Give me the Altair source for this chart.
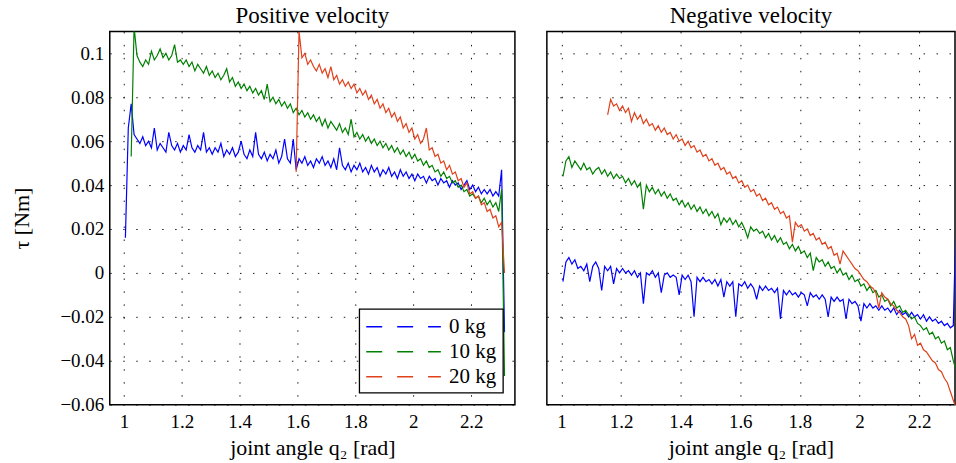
import altair as alt
import numpy as np
import pandas as pd

STEP = 0.01
LOADS = ["0 kg", "10 kg", "20 kg"]
COLORS = ["#0000ff", "#008000", "#e0401a"]
X_TICKS = [1, 1.2, 1.4, 1.6, 1.8, 2, 2.2]
Y_TICKS = [-0.06, -0.04, -0.02, 0, 0.02, 0.04, 0.06, 0.08, 0.1]

# ---------------- Positive velocity ----------------
pos_blue_x0 = 1.005
pos_blue = [
    0.016, 0.066, 0.077, 0.063, 0.061, 0.059, 0.062, 0.058, 0.060, 0.057,
    0.066, 0.056, 0.059, 0.057, 0.055, 0.064, 0.058, 0.056, 0.059, 0.055,
    0.058, 0.056, 0.063, 0.057, 0.055, 0.058, 0.056, 0.064, 0.055, 0.057,
    0.054, 0.057, 0.055, 0.059, 0.053, 0.056, 0.054, 0.057, 0.053, 0.055,
    0.060, 0.054, 0.052, 0.056, 0.053, 0.064, 0.054, 0.052, 0.055, 0.051,
    0.054, 0.052, 0.056, 0.050, 0.053, 0.061, 0.052, 0.050, 0.061, 0.047,
    0.052, 0.050, 0.053, 0.049, 0.051, 0.048, 0.052, 0.050, 0.053, 0.049,
    0.051, 0.048, 0.052, 0.047, 0.057, 0.049, 0.047, 0.050, 0.046, 0.049,
    0.047, 0.050, 0.046, 0.048, 0.045, 0.049, 0.046, 0.048, 0.044, 0.047,
    0.045, 0.048, 0.044, 0.046, 0.043, 0.047, 0.044, 0.046, 0.043, 0.045,
    0.042, 0.045, 0.043, 0.044, 0.041, 0.044, 0.042, 0.043, 0.040, 0.043,
    0.041, 0.042, 0.039, 0.042, 0.040, 0.041, 0.038, 0.040, 0.042, 0.038,
    0.040, 0.037, 0.039, 0.036, 0.038, 0.036, 0.038, 0.035, 0.037, 0.035,
    0.047, -0.027,
]
pos_green_x0 = 1.025
pos_green = [
    0.053, 0.112, 0.099, 0.096, 0.094, 0.097, 0.095, 0.101, 0.097, 0.099,
    0.102, 0.098, 0.100, 0.097, 0.099, 0.104, 0.096, 0.097, 0.095, 0.097,
    0.094, 0.096, 0.092, 0.095, 0.093, 0.091, 0.094, 0.090, 0.092, 0.089,
    0.091, 0.088, 0.090, 0.093, 0.087, 0.089, 0.085, 0.087, 0.084, 0.086,
    0.083, 0.085, 0.082, 0.084, 0.081, 0.083, 0.079, 0.086, 0.078, 0.080,
    0.077, 0.079, 0.076, 0.078, 0.075, 0.077, 0.073, 0.075, 0.072, 0.074,
    0.071, 0.073, 0.070, 0.072, 0.069, 0.071, 0.067, 0.070, 0.066, 0.069,
    0.067, 0.065, 0.068, 0.064, 0.066, 0.063, 0.070, 0.062, 0.064, 0.061,
    0.063, 0.060, 0.062, 0.059, 0.061, 0.058, 0.060, 0.057, 0.059, 0.056,
    0.058, 0.055, 0.057, 0.054, 0.056, 0.053, 0.055, 0.052, 0.054, 0.051,
    0.052, 0.049, 0.051, 0.048, 0.049, 0.046, 0.047, 0.044, 0.046, 0.043,
    0.044, 0.041, 0.042, 0.039, 0.040, 0.037, 0.038, 0.035, 0.036, 0.034,
    0.035, 0.032, 0.034, 0.031, 0.033, 0.030, 0.032, 0.028, 0.038, -0.047,
]
pos_red_x0 = 1.595
pos_red = [
    0.046, 0.110, 0.098, 0.100, 0.095, 0.097, 0.094, 0.092, 0.095, 0.091,
    0.093, 0.089, 0.094, 0.088, 0.090, 0.086, 0.088, 0.085, 0.087, 0.084,
    0.086, 0.082, 0.084, 0.081, 0.083, 0.079, 0.081, 0.077, 0.079, 0.075,
    0.077, 0.073, 0.075, 0.071, 0.073, 0.069, 0.071, 0.066, 0.068, 0.064,
    0.066, 0.061, 0.063, 0.059, 0.061, 0.066, 0.056, 0.057, 0.053, 0.054,
    0.050, 0.051, 0.047, 0.049, 0.045, 0.046, 0.042, 0.043, 0.039, 0.041,
    0.036, 0.037, 0.034, 0.035, 0.031, 0.032, 0.028, 0.029, 0.025, 0.026,
    0.021, 0.023, 0.000,
]

# ---------------- Negative velocity ----------------
neg_blue_x0 = 1.005
neg_blue = [
    -0.004, 0.005, 0.007, 0.004, 0.006, 0.002, 0.003, 0.001, 0.004, -0.004,
    0.003, 0.005, 0.002, -0.008, 0.003, 0.001, 0.003, -0.005, 0.002, 0.000,
    0.002, 0.000, 0.001, -0.001, 0.001, -0.002, 0.000, -0.014, 0.000, -0.001,
    0.001, -0.002, 0.000, -0.009, -0.001, 0.000, -0.002, -0.001, -0.002, -0.010,
    -0.001, -0.003, -0.001, -0.004, -0.020, -0.002, -0.004, -0.002, -0.004, -0.003,
    -0.005, -0.003, -0.006, -0.003, -0.011, -0.004, -0.006, -0.004, -0.020, -0.005,
    -0.006, -0.004, -0.007, -0.005, -0.007, -0.012, -0.006, -0.008, -0.006, -0.008,
    -0.007, -0.009, -0.007, -0.021, -0.008, -0.010, -0.008, -0.010, -0.009, -0.011,
    -0.009, -0.010, -0.015, -0.009, -0.011, -0.010, -0.012, -0.010, -0.012, -0.020,
    -0.011, -0.013, -0.011, -0.013, -0.012, -0.021, -0.012, -0.014, -0.013, -0.015,
    -0.022, -0.014, -0.016, -0.014, -0.016, -0.015, -0.017, -0.015, -0.017, -0.016,
    -0.018, -0.016, -0.019, -0.017, -0.019, -0.018, -0.020, -0.018, -0.020, -0.019,
    -0.021, -0.019, -0.022, -0.020, -0.022, -0.021, -0.023, -0.022, -0.024, -0.023,
    -0.025, -0.024, 0.030,
]
neg_green_x0 = 1.005
neg_green = [
    0.044, 0.051, 0.053, 0.048, 0.051, 0.049, 0.047, 0.050, 0.047, 0.048,
    0.045, 0.047, 0.048, 0.045, 0.047, 0.044, 0.046, 0.043, 0.045, 0.043,
    0.044, 0.041, 0.043, 0.040, 0.042, 0.039, 0.041, 0.029, 0.040, 0.037,
    0.039, 0.036, 0.038, 0.035, 0.037, 0.034, 0.036, 0.033, 0.034, 0.031,
    0.033, 0.030, 0.032, 0.029, 0.031, 0.028, 0.030, 0.027, 0.029, 0.026,
    0.028, 0.025, 0.027, 0.022, 0.025, 0.023, 0.025, 0.022, 0.024, 0.021,
    0.023, 0.020, 0.016, 0.021, 0.019, 0.020, 0.018, 0.019, 0.016, 0.018,
    0.015, 0.017, 0.014, 0.016, 0.013, 0.014, 0.011, 0.013, 0.010, 0.012,
    0.009, 0.010, 0.007, 0.009, 0.001, 0.007, 0.005, 0.006, 0.003, 0.005,
    0.002, 0.003, 0.000, 0.002, -0.001, 0.000, -0.003, -0.001, -0.004, -0.003,
    -0.006, -0.005, -0.008, -0.006, -0.009, -0.008, -0.011, -0.010, -0.013, -0.012,
    -0.015, -0.013, -0.016, -0.015, -0.018, -0.017, -0.019, -0.021, -0.020, -0.023,
    -0.024, -0.026, -0.025, -0.028, -0.027, -0.030, -0.029, -0.032, -0.031, -0.035,
    -0.034, -0.040, -0.045,
]
neg_red_x0 = 1.155
neg_red = [
    0.072, 0.079, 0.076, 0.077, 0.074, 0.076, 0.073, 0.075, 0.069, 0.073,
    0.070, 0.072, 0.068, 0.070, 0.067, 0.068, 0.065, 0.067, 0.064, 0.066,
    0.063, 0.064, 0.061, 0.063, 0.060, 0.061, 0.058, 0.060, 0.057, 0.058,
    0.055, 0.056, 0.053, 0.054, 0.051, 0.052, 0.049, 0.050, 0.047, 0.048,
    0.045, 0.046, 0.043, 0.044, 0.041, 0.042, 0.039, 0.040, 0.037, 0.038,
    0.035, 0.036, 0.033, 0.034, 0.031, 0.032, 0.029, 0.030, 0.027, 0.028,
    0.025, 0.026, 0.014, 0.023, 0.021, 0.022, 0.019, 0.020, 0.017, 0.018,
    0.015, 0.016, 0.013, 0.014, 0.011, 0.012, 0.008, 0.009, 0.004, 0.010,
    0.008, 0.006, 0.004, 0.002, 0.001, -0.001, -0.003, -0.004, -0.006, -0.007,
    -0.009, -0.016, -0.009, -0.011, -0.012, -0.014, -0.015, -0.017, -0.018, -0.020,
    -0.021, -0.024, -0.030, -0.028, -0.033, -0.032, -0.035, -0.036, -0.038, -0.040,
    -0.041, -0.044, -0.045, -0.048, -0.050, -0.054, -0.058, -0.062,
]


def frame(values, x0, load):
    q = np.round(x0 + STEP * np.arange(len(values)), 4)
    return pd.DataFrame({"q": q, "tau": values, "load": load})


pos_df = pd.concat([
    frame(pos_blue, pos_blue_x0, LOADS[0]),
    frame(pos_green, pos_green_x0, LOADS[1]),
    frame(pos_red, pos_red_x0, LOADS[2]),
])
neg_df = pd.concat([
    frame(neg_blue, neg_blue_x0, LOADS[0]),
    frame(neg_green, neg_green_x0, LOADS[1]),
    frame(neg_red, neg_red_x0, LOADS[2]),
])

FONT = "Liberation Serif"
x_title = "joint angle q\u2082 [rad]"

color_scale = alt.Scale(domain=LOADS, range=COLORS)
y_scale = alt.Scale(domain=[-0.06, 0.11], nice=False, zero=False)


def x_axis():
    return alt.Axis(values=X_TICKS, format="~g", title=x_title, labelPadding=8,
                    titlePadding=6, grid=True)


left = alt.Chart(pos_df, title="Positive velocity").mark_line(
    strokeWidth=1.2, clip=True
).encode(
    x=alt.X("q:Q", scale=alt.Scale(domain=[0.951, 2.351], nice=False, zero=False),
            axis=x_axis()),
    y=alt.Y("tau:Q", scale=y_scale,
            axis=alt.Axis(values=Y_TICKS, format="~g", title="\u03c4 [Nm]",
                          labelPadding=6, titlePadding=26, grid=True)),
    color=alt.Color("load:N", scale=color_scale, sort=LOADS,
                    legend=alt.Legend(
                        title=None, orient="bottom-right", offset=12,
                        symbolType="M-1,0H5.8", symbolSize=484,
                        symbolDash=[16, 15], symbolStrokeWidth=1.4,
                        labelFont=FONT, labelFontSize=21, labelColor="black",
                        labelOffset=60, rowPadding=3, padding=6,
                        strokeColor="black", fillColor="white",
                        cornerRadius=0)),
    detail="load:N",
).properties(width=406, height=374)

right = alt.Chart(neg_df, title="Negative velocity").mark_line(
    strokeWidth=1.2, clip=True
).encode(
    x=alt.X("q:Q", scale=alt.Scale(domain=[0.951, 2.3207], nice=False, zero=False),
            axis=x_axis()),
    y=alt.Y("tau:Q", scale=y_scale,
            axis=alt.Axis(values=Y_TICKS, labels=False, title=None, grid=True)),
    color=alt.Color("load:N", scale=color_scale, sort=LOADS, legend=None),
    detail="load:N",
).properties(width=409, height=374)

chart = alt.hconcat(left, right, spacing=30).resolve_legend(
    color="independent"
).properties(
    padding={"left": 10, "top": 4, "right": 0, "bottom": 0}
).configure(
    font=FONT
).configure_axis(
    labelFont=FONT, labelFontSize=19, labelColor="black",
    titleFont=FONT, titleFontSize=22, titleFontWeight="normal", titleColor="black",
    gridColor="black", gridDash=[1.5, 11.5], gridOpacity=0.9, gridWidth=1,
    ticks=False, domain=False,
).configure_legend(
    strokeWidth=1.3
).configure_view(
    stroke="black", strokeWidth=1.5
).configure_title(
    font=FONT, fontSize=23, fontWeight="normal", color="black", offset=3
)

chart.save("out.html", embed_options={"renderer": "svg", "actions": False})
